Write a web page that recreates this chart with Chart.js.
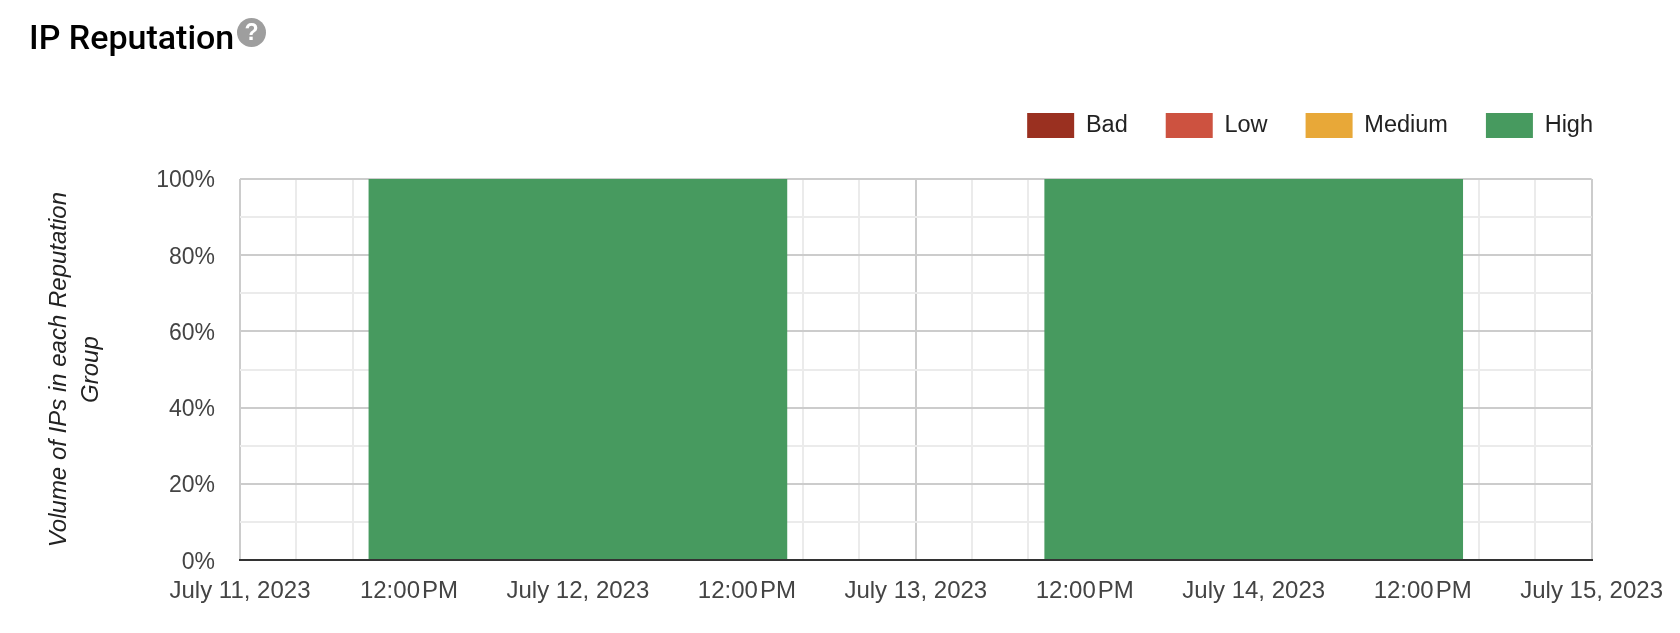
<!DOCTYPE html>
<html><head><meta charset="utf-8">
<script src="https://cdn.jsdelivr.net/npm/chart.js@4"></script>
<style>
html,body{margin:0;padding:0;background:#fff;overflow:hidden}
#wrap{position:relative;width:1680px;height:633px}
canvas{position:absolute;left:0;top:0}
h2{position:absolute;left:29px;top:17px;margin:0;font:500 34px/40px Roboto,sans-serif;color:#000;white-space:nowrap}
#help{position:absolute;left:237px;top:18px;width:29px;height:29px;border-radius:50%;background:#9e9e9e;color:#fff;font:700 23px/29px "Liberation Sans",sans-serif;text-align:center}
</style></head><body>
<div id="wrap"><canvas id="c" width="1680" height="633"></canvas><h2>IP Reputation</h2><div id="help">?</div></div>
<script>
const dates = ["2023-07-12", "2023-07-14"];
const seriesNames = ["Bad", "Low", "Medium", "High"];
const bad = [0, 0];
const low = [0, 0];
const medium = [0, 0];
const high = [100, 100];
const seriesColors = ["#9a3020", "#cd5240", "#e8a838", "#479a5f"];
const axisStart = "2023-07-11";
const axisEnd = "2023-07-15";
const tickLabels = ["July 11, 2023", "12:00\u200APM", "July 12, 2023", "12:00\u200APM", "July 13, 2023", "12:00\u200APM", "July 14, 2023", "12:00\u200APM", "July 15, 2023"];
const yTitle = ["Volume of IPs in each Reputation", "Group"];

const HOUR = 3600000;
const t = s => Date.parse(s + "T00:00:00Z");
const t0 = t(axisStart);
const mk = (name, vals, i) => ({
  label: name, backgroundColor: seriesColors[i], borderWidth: 0,
  data: dates.map((d, k) => ({x: t(d), y: vals[k]}))
});
const FONT = "'Liberation Sans', Arial, sans-serif";
const shiftLegend = {
  id: 'shiftLegend',
  beforeLayout(chart) {
    const lg = chart.legend;
    if (!lg._wrapped) {
      const f = lg.fit;
      lg.fit = function () { f.call(this); this.height += 31; };
      lg._wrapped = true;
    }
  },
  afterLayout(chart) {
    chart.legend.left += 38; chart.legend.right += 38;
    chart.scales.y.getLabelItems().forEach(i => { i.options.translation[1] += 2; });
  }
};
new Chart(document.getElementById('c'), {
  type: 'bar',
  data: { datasets: [mk(seriesNames[0], bad, 0), mk(seriesNames[1], low, 1), mk(seriesNames[2], medium, 2), mk(seriesNames[3], high, 3)] },
  plugins: [shiftLegend],
  options: {
    responsive: false, animation: false, events: [],
    barThickness: 418,
    layout: { padding: { top: 75, left: 44, right: 87, bottom: 10 } },
    plugins: {
      tooltip: { enabled: false },
      legend: {
        position: 'top', align: 'end',
        labels: { boxWidth: 47, boxHeight: 25, padding: 38, color: '#222', font: { family: FONT, size: 23.5 } }
      }
    },
    scales: {
      x: {
        type: 'linear', stacked: true, offset: false,
        min: t0, max: t(axisEnd),
        grid: {
          offset: false, drawTicks: false,
          color: c => (c.tick && (c.tick.value - t0) % (48 * HOUR) === 0 ? '#cccccc' : '#ebebeb'),
          lineWidth: 2
        },
        border: { display: true, color: '#333333', width: 2, z: 1 },
        ticks: {
          stepSize: 4 * HOUR, autoSkip: false, maxRotation: 0, minRotation: 0, padding: 17,
          color: '#444', font: { family: FONT, size: 24 }, includeBounds: true,
          callback: v => { const h = Math.round((v - t0) / HOUR); return h % 12 === 0 ? tickLabels[h / 12] : ''; }
        }
      },
      y: {
        stacked: true, min: 0, max: 100,
        afterFit(s) { s.width = 196; },
        grid: {
          drawTicks: false,
          color: c => c.tick.value === 0 ? 'rgba(0,0,0,0)' : (c.tick.value % 20 === 0 ? '#cccccc' : '#ebebeb'),
          lineWidth: 2
        },
        border: { display: false },
        title: { display: true, text: yTitle, color: '#222', padding: 0, font: { family: FONT, size: 24, style: 'italic', lineHeight: 1.31 } },
        ticks: {
          stepSize: 10, padding: 25, color: '#444', font: { family: FONT, size: 23 }, autoSkip: false,
          callback: v => v % 20 === 0 ? v + '%' : ''
        }
      }
    }
  }
});
</script></body></html>
